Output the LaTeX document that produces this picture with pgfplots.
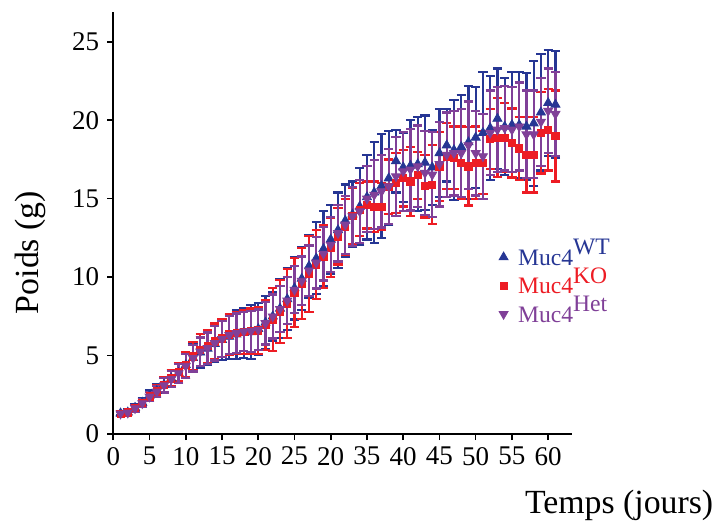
\documentclass[border=0pt]{standalone}
\usepackage{fontspec}
\setmainfont{Liberation Serif}
\usepackage{pgfplots}
\usepackage{pgfplotstable}
\pgfplotsset{compat=1.18}
\definecolor{wtblue}{RGB}{38,54,148}
\definecolor{kored}{RGB}{237,28,36}
\definecolor{hetpur}{RGB}{128,64,152}

\pgfplotstableread{
x y e
1 1.32 0.15
2 1.38 0.18
3 1.68 0.22
4 2.00 0.28
5 2.45 0.35
6 2.75 0.40
7 3.15 0.50
8 3.55 0.55
9 3.90 0.65
10 4.40 0.80
11 4.85 0.90
12 5.20 1.00
13 5.45 1.05
14 5.75 1.15
15 6.00 1.30
16 6.20 1.40
17 6.35 1.55
18 6.45 1.60
19 6.50 1.70
20 6.70 1.65
21 7.10 1.70
22 7.50 1.55
23 8.00 1.90
24 8.60 1.95
25 9.30 2.00
26 9.90 2.00
27 10.70 2.00
28 11.20 2.30
29 11.80 2.40
30 12.40 2.20
31 13.00 2.40
32 13.60 2.30
33 14.00 2.10
34 14.50 2.45
35 15.10 2.70
36 15.40 3.20
37 15.80 3.30
38 16.30 3.00
39 17.40 2.00
40 17.00 2.20
41 17.10 2.90
42 17.20 3.00
43 17.30 3.00
44 17.00 2.40
45 17.90 2.80
46 18.40 2.30
47 18.10 3.20
48 18.30 3.30
49 18.60 3.60
50 18.90 3.20
51 19.20 3.90
52 19.50 3.30
53 20.10 3.20
54 19.60 3.10
55 19.70 3.40
56 19.70 3.40
57 19.60 3.40
58 19.80 4.00
59 20.50 3.70
60 21.10 3.40
61 21.00 3.40
}\wt

\pgfplotstableread{
x y e
1 1.30 0.13
2 1.38 0.15
3 1.65 0.20
4 2.00 0.25
5 2.40 0.30
6 2.75 0.35
7 3.15 0.45
8 3.55 0.50
9 3.95 0.60
10 4.40 0.80
11 4.95 0.90
12 5.35 1.00
13 5.60 1.05
14 5.90 1.15
15 6.10 1.20
16 6.35 1.30
17 6.45 1.35
18 6.50 1.40
19 6.55 1.45
20 6.60 1.50
21 6.95 1.60
22 7.30 2.00
23 7.80 2.00
24 8.30 2.20
25 9.00 2.20
26 9.60 2.25
27 10.20 2.40
28 10.80 2.20
29 11.30 2.00
30 11.90 1.90
31 12.60 1.80
32 13.20 1.80
33 13.90 1.80
34 14.30 1.70
35 14.60 1.50
36 14.50 1.60
37 14.50 1.50
38 15.75 1.75
39 16.00 1.90
40 16.30 1.80
41 16.10 2.20
42 16.50 1.50
43 15.80 2.00
44 15.90 2.50
45 17.06 2.20
46 17.70 2.10
47 17.60 2.00
48 17.30 2.30
49 17.06 2.50
50 17.30 2.30
51 17.30 2.00
52 18.80 1.90
53 18.90 2.50
54 18.90 2.20
55 18.55 2.20
56 18.20 2.00
57 17.80 2.40
58 17.80 2.40
59 19.20 2.60
60 19.40 2.60
61 19.00 2.90
}\ko

\pgfplotstableread{
x y e
1 1.30 0.12
2 1.36 0.15
3 1.64 0.20
4 1.96 0.25
5 2.38 0.30
6 2.70 0.35
7 3.10 0.45
8 3.50 0.50
9 3.87 0.60
10 4.34 0.75
11 4.83 0.85
12 5.25 0.90
13 5.47 1.00
14 5.79 1.10
15 6.05 1.15
16 6.30 1.20
17 6.43 1.25
18 6.53 1.25
19 6.55 1.30
20 6.64 1.30
21 7.06 1.35
22 7.49 1.40
23 7.96 1.45
24 8.50 1.50
25 9.19 1.50
26 9.76 1.55
27 10.42 1.60
28 10.93 1.65
29 11.49 1.70
30 12.06 1.75
31 12.80 1.80
32 13.34 1.85
33 13.87 1.90
34 14.19 2.00
35 15.00 2.10
36 15.25 2.20
37 15.46 2.30
38 15.78 2.40
39 16.42 2.50
40 16.74 2.50
41 16.85 2.60
42 17.06 2.60
43 16.64 2.70
44 16.53 2.70
45 17.20 2.70
46 17.80 2.70
47 17.90 2.70
48 17.90 2.80
49 18.40 2.80
50 17.90 2.70
51 17.70 2.70
52 19.20 2.70
53 19.40 2.70
54 19.50 2.70
55 19.40 2.70
56 19.60 2.80
57 19.10 2.80
58 19.10 2.80
59 19.90 2.80
60 20.60 2.70
61 20.40 2.70
}\het

\newcommand{\sups}[1]{\smash{\raisebox{5.3pt}{\fontsize{11.8}{11.8}\selectfont #1}}}

\begin{document}
\begin{tikzpicture}
\begin{axis}[
  name=ax,
  scale only axis,
  width=229.4pt, height=211pt,
  xmin=0, xmax=63.3, ymin=0, ymax=26.9,
  axis lines=left,
  axis line style={-, line width=1pt},
  xtick={0,5,...,60},
  xticklabels={0,5,10,15,20,25,20,35,40,45,50,55,60},
  ytick={0,5,...,25},
  tick align=outside,
  major tick length=3pt,
  tick style={line width=0.8pt, black},
  /pgf/number format/assume math mode=true,
  tick label style={font=\fontsize{13.5}{13.5}\selectfont},
  yticklabel style={xshift=-0.5pt},
  xlabel={Temps (jours)},
  ylabel={Poids (g)},
  label style={font=\fontsize{16.9}{16.9}\selectfont},
  x label style={at={(axis description cs:1.323,-0.115)}, anchor=north east},
  y label style={at={(axis description cs:-0.18,0.43)}, anchor=center},
  legend style={at={(0.840,0.453)}, anchor=north west, draw=none, fill=none,
    font=\fontsize{11.8}{11.8}\selectfont, row sep=0.2pt, inner sep=0pt,
    nodes={text height=8pt, text depth=0pt, inner ysep=3pt}},
  legend cell align=left,
  clip=false,
]
\addplot[only marks, mark=triangle*, mark size=2.6pt, color=wtblue,
  error bars/.cd, y dir=both, y explicit,
  error bar style={line width=1.1pt},
  error mark options={rotate=90, mark size=2.3pt, line width=1.1pt}]
  table[x=x, y=y, y error=e]{\wt};
\addlegendentry{\hspace{3pt}\textcolor{wtblue}{Muc4\sups{WT}}}
\addplot[only marks, mark=square*, mark size=1.8pt, color=kored,
  error bars/.cd, y dir=both, y explicit,
  error bar style={line width=1.1pt},
  error mark options={rotate=90, mark size=2.3pt, line width=1.1pt}]
  table[x=x, y=y, y error=e]{\ko};
\addlegendentry{\hspace{3pt}\textcolor{kored}{Muc4\sups{KO}}}
\addplot[only marks, mark=triangle*, mark options={rotate=180}, mark size=2.6pt, color=hetpur,
  error bars/.cd, y dir=both, y explicit,
  error bar style={line width=1.1pt},
  error mark options={rotate=90, mark size=2.3pt, line width=1.1pt}]
  table[x=x, y=y, y error=e]{\het};
\addlegendentry{\hspace{3pt}\textcolor{hetpur}{Muc4\sups{Het}}}
\end{axis}
\pgfresetboundingbox
\path ([shift={(-56.65pt,-43pt)}]ax.south west) rectangle ([shift={(307.35pt,217pt)}]ax.south west);
\end{tikzpicture}
\end{document}
